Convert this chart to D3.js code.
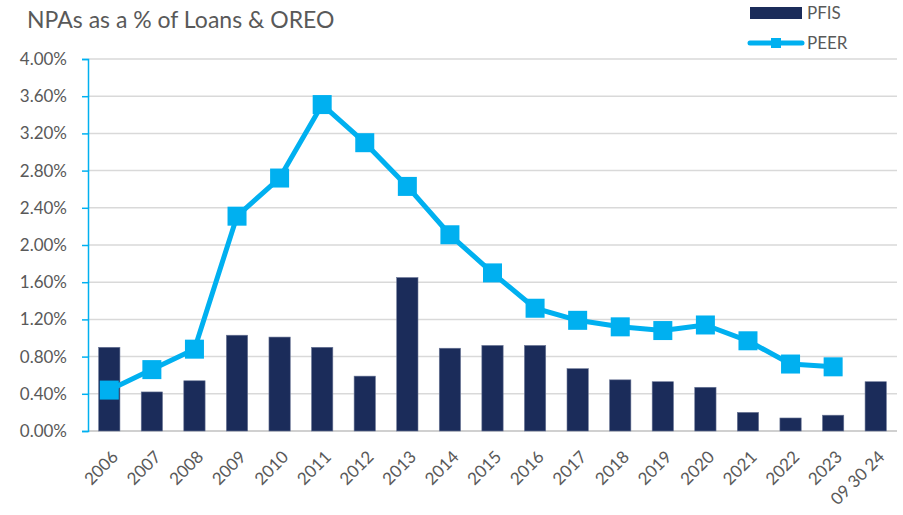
<!DOCTYPE html>
<html>
<head>
<meta charset="utf-8">
<script src="https://cdn.jsdelivr.net/npm/d3@7"></script>
<style>
  body { margin: 0; background: #fff; }
  svg text { font-family: Lato, "Open Sans", sans-serif; fill: #595959; }
</style>
</head>
<body>
<div id="chart"></div>
<script>
const years = ['2006', '2007', '2008', '2009', '2010', '2011', '2012', '2013', '2014', '2015',
    '2016', '2017', '2018', '2019', '2020', '2021', '2022', '2023', '09 30 24']
const pfis = [0.90, 0.42, 0.54, 1.03, 1.01, 0.90, 0.59, 1.65, 0.89, 0.92,
    0.92, 0.67, 0.55, 0.53, 0.47, 0.20, 0.14, 0.17, 0.53]
const peer = [0.44, 0.66, 0.88, 2.31, 2.72, 3.51, 3.10, 2.63, 2.11, 1.70,
    1.32, 1.19, 1.12, 1.08, 1.14, 0.97, 0.72, 0.69, null]
const yTicks = [0, 0.4, 0.8, 1.2, 1.6, 2.0, 2.4, 2.8, 3.2, 3.6, 4.0]

const W = 903, H = 515
const margin = { top: 59, right: 6, bottom: 84, left: 88 }
const width = W - margin.left - margin.right
const height = H - margin.top - margin.bottom

const navy = '#1b2c5a'
const cyan = '#00b0f0'

const svg = d3.select('#chart').append('svg')
    .attr('width', W)
    .attr('height', H)

svg.append('text')
    .attr('x', 27)
    .attr('y', 28)
    .style('font-size', '23px')
    .text('NPAs as a % of Loans & OREO')

const g = svg.append('g')
    .attr('transform', `translate(${margin.left},${margin.top})`)

const x = d3.scaleBand().domain(years).range([0, width]).paddingInner(0.5).paddingOuter(0.25)
const y = d3.scaleLinear().domain([0, 4]).range([height, 0])

// gridlines
g.append('g')
    .selectAll('line')
    .data(yTicks)
    .enter().append('line')
    .attr('x1', 0)
    .attr('x2', width)
    .attr('y1', d => y(d))
    .attr('y2', d => y(d))
    .attr('stroke', d => d === 0 ? '#d0d0d0' : '#d9d9d9')
    .attr('stroke-width', d => d === 0 ? 2 : 1.5)

// y axis
const yAxis = g.append('g')
    .call(d3.axisLeft(y).tickValues(yTicks).tickFormat(d => d.toFixed(2) + '%').tickSize(6).tickPadding(15))
yAxis.select('.domain').attr('stroke', cyan).attr('stroke-width', 1.5)
yAxis.selectAll('.tick line').attr('stroke', cyan).attr('stroke-width', 1.5)
yAxis.selectAll('.tick text').style('font-size', '17px').attr('fill', '#595959')

// bars
g.selectAll('.bar')
    .data(years)
    .enter().append('rect')
    .attr('class', 'bar')
    .attr('x', d => x(d))
    .attr('width', x.bandwidth())
    .attr('y', (d, i) => y(pfis[i]))
    .attr('height', (d, i) => height - y(pfis[i]))
    .attr('fill', navy)
    .attr('stroke', '#6a7696')
    .attr('stroke-width', 0.6)

// x labels
g.append('g')
    .selectAll('text')
    .data(years)
    .enter().append('text')
    .attr('transform', d => `translate(${x(d) + x.bandwidth() / 2 + 10},${height + 27}) rotate(-45)`)
    .attr('text-anchor', 'end')
    .style('font-size', '17px')
    .text(d => d)

// peer line
const peerPts = years.map((d, i) => ({ year: d, v: peer[i] })).filter(d => d.v !== null)
const line = d3.line()
    .x(d => x(d.year) + x.bandwidth() / 2)
    .y(d => y(d.v))

g.append('path')
    .datum(peerPts)
    .attr('d', line)
    .attr('fill', 'none')
    .attr('stroke', cyan)
    .attr('stroke-width', 5)
    .attr('stroke-linejoin', 'round')

const ms = 19
g.selectAll('.marker')
    .data(peerPts)
    .enter().append('rect')
    .attr('class', 'marker')
    .attr('x', d => x(d.year) + x.bandwidth() / 2 - ms / 2)
    .attr('y', d => y(d.v) - ms / 2)
    .attr('width', ms)
    .attr('height', ms)
    .attr('fill', cyan)

// legend
const legend = svg.append('g')
legend.append('rect')
    .attr('x', 750).attr('y', 7).attr('width', 52).attr('height', 12)
    .attr('fill', navy)
legend.append('text')
    .attr('x', 807).attr('y', 13).attr('dy', '0.35em')
    .style('font-size', '17px')
    .text('PFIS')
legend.append('line')
    .attr('x1', 750).attr('x2', 802).attr('y1', 43).attr('y2', 43)
    .attr('stroke', cyan).attr('stroke-width', 5).attr('stroke-linecap', 'round')
legend.append('rect')
    .attr('x', 771).attr('y', 38).attr('width', 10).attr('height', 10)
    .attr('fill', cyan)
legend.append('text')
    .attr('x', 807).attr('y', 43).attr('dy', '0.35em')
    .style('font-size', '17px')
    .text('PEER')
</script>
</body>
</html>
